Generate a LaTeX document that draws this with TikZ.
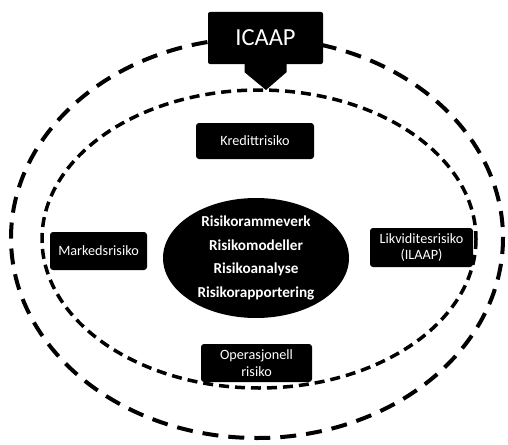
\documentclass[tikz,border=0pt]{standalone}
\usepackage{fontspec}
\setmainfont{Carlito}
\usetikzlibrary{shapes.geometric,calc}
\begin{document}
\begin{tikzpicture}[x=1pt,y=-1pt,
  riskbox/.style={fill=black,text=white,rounded corners=3pt,align=center,inner sep=0pt,font=\fontsize{14.2}{16.5}\selectfont},
  outerring/.style={line width=4pt,dash pattern=on 16pt off 10pt},
  innerring/.style={line width=3.5pt,dash pattern=on 10pt off 6pt}]
\useasboundingbox (0,0) rectangle (508,444);
\fill[white] (0,0) rectangle (508,444);
\draw[outerring] (257,238) ellipse [x radius=246, y radius=200];
\draw[innerring] (259,239) ellipse [x radius=217, y radius=149];
\node[fill=black,ellipse,minimum width=186pt,minimum height=120pt,inner sep=0pt] (core) at (256,258) {};
\node[text=white,align=center,font=\bfseries\fontsize{15.2}{23.5}\selectfont] (coretext) at (core.center) {Risikorammeverk\\Risikomodeller\\Risikoanalyse\\Risikorapportering};
\node[fill=black,rounded corners=2pt,minimum width=115pt,minimum height=52pt,inner sep=0pt,text=white,font=\fontsize{24.5}{27}\selectfont] (icaap) at (265.5,38) {ICAAP};
\coordinate (tip) at (266,90);
\fill ($(icaap.south)+(-21,0)$) -- ++(0,8) -- (tip) -- ($(icaap.south)+(21,8)$) -- ++(0,-8) -- cycle;
\node[riskbox,minimum width=118pt,minimum height=36pt] (kreditt) at (255,141) {Kredittrisiko};
\node[riskbox,minimum width=97pt,minimum height=38pt] (marked) at (98.5,251) {Markedsrisiko};
\node[riskbox,minimum width=103pt,minimum height=39pt] (likv) at (421.5,247.5) {Likviditesrisiko\\(ILAAP)};
\node[riskbox,minimum width=111pt,minimum height=38pt] (opr) at (256.5,363) {Operasjonell\\risiko};
\end{tikzpicture}
\end{document}
